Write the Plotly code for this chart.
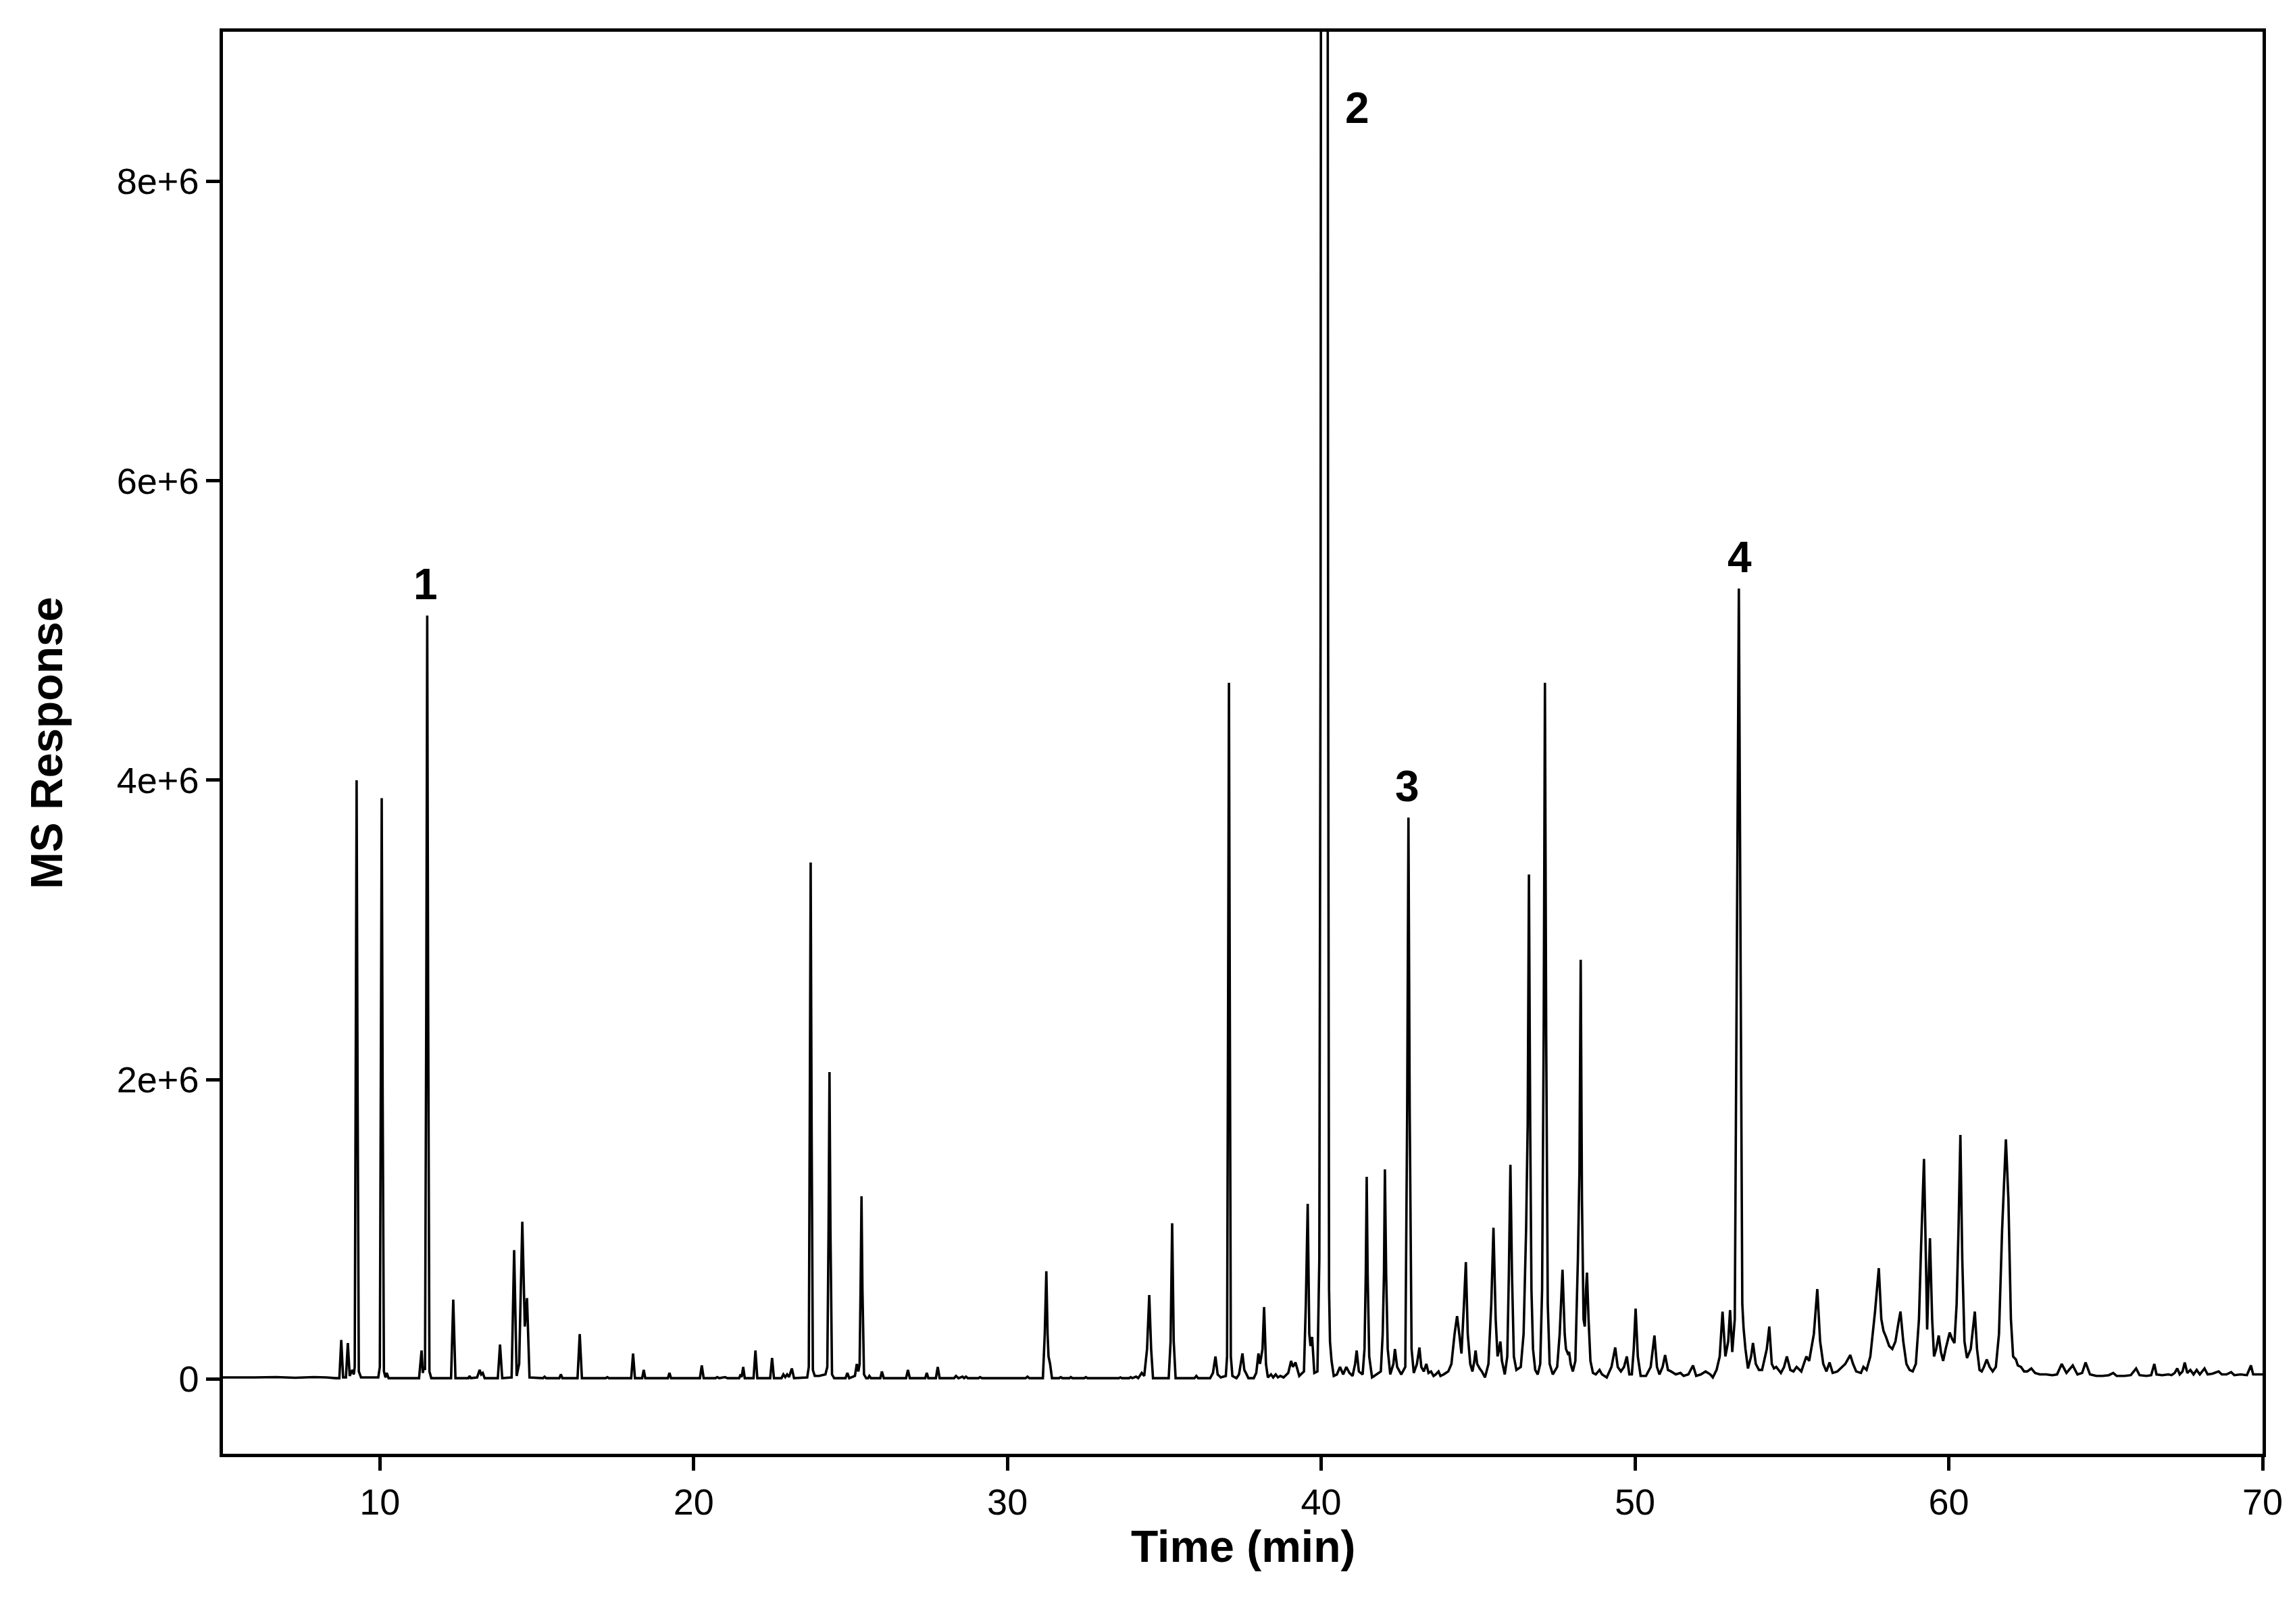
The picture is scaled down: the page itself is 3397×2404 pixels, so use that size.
import plotly.graph_objects as go

# Chromatogram trace: (time in min, MS response in 1e6 counts)
seg_05_20 = [
    (5.0, 0.01), (6.0, 0.01), (6.7, 0.012), (7.3, 0.008), (7.9, 0.012), (8.3, 0.01), (8.6, 0.005),
    (8.71, 0.005), (8.77, 0.26), (8.83, 0.01),
    (8.92, 0.01), (8.98, 0.24), (9.04, 0.02),
    (9.12, 0.06), (9.17, 0.03), (9.2, 0.08), (9.23, 2.0), (9.26, 4.0), (9.29, 2.0), (9.33, 0.05), (9.4, 0.01),
    (9.95, 0.01), (10.0, 0.08), (10.03, 1.9), (10.06, 3.88), (10.09, 1.9), (10.13, 0.05), (10.18, 0.01),
    (10.22, 0.04), (10.28, 0.005),
    (11.25, 0.005), (11.33, 0.19), (11.37, 0.04), (11.4, 0.08), (11.44, 0.06), (11.48, 2.5), (11.51, 5.1),
    (11.54, 2.5), (11.58, 0.05), (11.64, 0.005),
    (12.27, 0.005), (12.34, 0.53), (12.41, 0.005),
    (12.82, 0.005), (12.86, 0.02), (12.9, 0.005), (13.1, 0.01), (13.18, 0.06), (13.23, 0.03), (13.28, 0.04),
    (13.34, 0.005),
    (13.76, 0.005), (13.83, 0.23), (13.9, 0.005),
    (14.2, 0.01), (14.28, 0.86), (14.36, 0.02), (14.44, 0.1), (14.54, 1.05), (14.62, 0.35), (14.69, 0.54),
    (14.77, 0.01),
    (15.2, 0.005), (15.25, 0.015), (15.3, 0.005), (15.72, 0.005), (15.77, 0.03), (15.82, 0.005),
    (16.3, 0.005), (16.37, 0.30), (16.44, 0.005),
    (17.2, 0.005), (17.25, 0.012), (17.3, 0.005),
    (18.01, 0.005), (18.07, 0.17), (18.13, 0.005), (18.36, 0.005), (18.41, 0.06), (18.46, 0.005),
    (19.18, 0.005), (19.23, 0.04), (19.28, 0.005),
    (20.2, 0.005), (20.26, 0.09), (20.32, 0.005),
]

seg_20_31 = [
    (20.7, 0.005), (20.75, 0.012), (20.82, 0.005), (21.0, 0.012), (21.08, 0.005),
    (21.45, 0.005), (21.5, 0.03), (21.53, 0.012), (21.58, 0.08), (21.63, 0.005),
    (21.91, 0.005), (21.97, 0.19), (22.03, 0.005),
    (22.44, 0.005), (22.5, 0.14), (22.56, 0.005),
    (22.8, 0.005), (22.86, 0.03), (22.92, 0.012), (22.98, 0.03), (23.04, 0.012), (23.13, 0.07), (23.2, 0.005),
    (23.62, 0.01), (23.67, 0.08), (23.7, 1.7), (23.73, 3.45), (23.76, 1.7), (23.8, 0.06), (23.86, 0.02),
    (24.0, 0.02), (24.2, 0.03), (24.26, 0.08), (24.3, 1.0), (24.33, 2.05), (24.36, 1.0), (24.41, 0.03),
    (24.48, 0.005),
    (24.84, 0.005), (24.9, 0.04), (24.96, 0.005), (25.14, 0.02), (25.2, 0.1), (25.25, 0.05), (25.29, 0.1),
    (25.32, 0.6), (25.35, 1.22), (25.38, 0.6), (25.43, 0.03), (25.5, 0.005),
    (25.56, 0.005), (25.6, 0.02), (25.65, 0.005), (25.95, 0.005), (26.0, 0.05), (26.06, 0.005),
    (26.77, 0.005), (26.83, 0.06), (26.89, 0.005),
    (27.38, 0.005), (27.43, 0.04), (27.48, 0.005), (27.72, 0.005), (27.78, 0.08), (27.84, 0.005),
    (28.3, 0.005), (28.36, 0.02), (28.44, 0.005), (28.57, 0.015), (28.62, 0.005), (28.68, 0.015),
    (28.74, 0.005),
    (29.08, 0.005), (29.13, 0.012), (29.19, 0.005), (30.58, 0.005), (30.64, 0.015), (30.7, 0.005),
    (31.13, 0.005), (31.19, 0.3), (31.24, 0.72), (31.28, 0.3), (31.31, 0.15), (31.36, 0.1), (31.42, 0.005),
]

seg_31_40 = [
    (31.65, 0.005), (31.7, 0.012), (31.75, 0.005), (31.98, 0.005), (32.02, 0.012), (32.07, 0.005),
    (32.45, 0.005), (32.5, 0.012), (32.55, 0.005),
    (33.55, 0.005), (33.6, 0.01), (33.65, 0.005), (33.88, 0.005), (33.93, 0.012), (33.98, 0.005),
    (34.1, 0.015), (34.17, 0.005), (34.28, 0.04), (34.36, 0.02),
    (34.45, 0.2), (34.52, 0.56), (34.58, 0.2), (34.64, 0.005),
    (35.14, 0.005), (35.2, 0.25), (35.25, 1.04), (35.3, 0.25), (35.36, 0.005),
    (35.96, 0.005), (36.02, 0.02), (36.08, 0.005),
    (36.46, 0.005), (36.55, 0.04), (36.63, 0.15), (36.7, 0.03), (36.8, 0.01),
    (36.96, 0.02), (37.0, 0.15), (37.03, 2.3), (37.06, 4.65), (37.09, 2.3), (37.12, 0.15), (37.17, 0.02),
    (37.3, 0.005), (37.38, 0.03), (37.49, 0.17), (37.55, 0.06), (37.6, 0.04), (37.68, 0.005),
    (37.85, 0.005), (37.93, 0.04), (38.0, 0.17), (38.05, 0.1), (38.13, 0.2), (38.18, 0.48), (38.24, 0.1),
    (38.3, 0.01),
    (38.4, 0.03), (38.47, 0.01), (38.55, 0.03), (38.62, 0.01), (38.7, 0.02), (38.8, 0.01), (38.95, 0.04),
    (39.04, 0.12), (39.1, 0.08), (39.18, 0.11), (39.3, 0.02),
    (39.45, 0.05), (39.51, 0.5), (39.57, 1.17), (39.62, 0.3), (39.66, 0.22), (39.71, 0.28), (39.78, 0.04),
    (39.88, 0.05), (39.94, 0.8), (39.98, 5.0), (40.0, 12.0), (40.2, 12.0), (40.22, 5.0), (40.25, 0.6),
    (40.28, 0.25), (40.33, 0.12), (40.4, 0.02),
]

seg_40_50 = [
    (40.5, 0.03), (40.6, 0.08), (40.7, 0.03), (40.8, 0.08), (40.9, 0.04), (41.0, 0.02), (41.08, 0.1),
    (41.13, 0.19), (41.2, 0.05), (41.32, 0.03),
    (41.38, 0.2), (41.42, 0.7), (41.45, 1.35), (41.48, 0.7), (41.53, 0.15), (41.62, 0.01),
    (41.9, 0.05), (41.96, 0.3), (42.0, 0.7), (42.03, 1.40), (42.07, 0.7), (42.12, 0.2), (42.2, 0.03),
    (42.3, 0.1), (42.35, 0.2), (42.42, 0.08), (42.55, 0.03),
    (42.68, 0.08), (42.74, 1.8), (42.78, 3.75), (42.82, 1.8), (42.88, 0.2), (42.95, 0.04), (43.05, 0.1),
    (43.13, 0.21), (43.19, 0.08), (43.27, 0.05), (43.35, 0.1), (43.42, 0.04), (43.5, 0.05), (43.58, 0.02),
    (43.65, 0.03), (43.74, 0.05), (43.8, 0.02), (43.9, 0.03), (44.05, 0.05), (44.15, 0.1),
    (44.25, 0.3), (44.33, 0.42), (44.4, 0.3), (44.47, 0.17), (44.55, 0.5), (44.61, 0.78), (44.67, 0.3),
    (44.75, 0.1), (44.82, 0.05), (44.88, 0.12), (44.92, 0.19), (44.97, 0.1), (45.05, 0.07), (45.12, 0.05),
    (45.22, 0.01),
    (45.33, 0.1), (45.42, 0.5), (45.49, 1.01), (45.56, 0.4), (45.62, 0.15), (45.67, 0.2), (45.71, 0.25),
    (45.76, 0.12), (45.85, 0.03),
    (45.93, 0.15), (45.98, 0.7), (46.03, 1.43), (46.08, 0.7), (46.14, 0.15), (46.22, 0.06), (46.36, 0.08),
    (46.45, 0.3), (46.53, 1.0), (46.58, 1.7), (46.62, 3.37), (46.66, 1.7), (46.7, 0.6), (46.75, 0.2),
    (46.82, 0.06), (46.9, 0.03),
    (46.98, 0.1), (47.04, 0.6), (47.09, 2.3), (47.13, 4.65), (47.17, 2.3), (47.22, 0.5), (47.28, 0.1),
    (47.38, 0.03),
    (47.52, 0.08), (47.6, 0.3), (47.69, 0.73), (47.76, 0.3), (47.8, 0.2), (47.86, 0.17), (47.9, 0.18),
    (47.95, 0.1), (48.02, 0.05), (48.1, 0.12), (48.18, 0.8), (48.23, 1.4), (48.27, 2.8), (48.31, 1.2),
    (48.36, 0.4), (48.4, 0.35), (48.44, 0.6), (48.47, 0.71), (48.52, 0.4), (48.58, 0.12), (48.66, 0.04),
    (48.75, 0.03), (48.87, 0.06), (48.95, 0.03), (49.1, 0.01),
    (49.25, 0.08), (49.37, 0.21), (49.45, 0.08), (49.55, 0.05), (49.65, 0.08), (49.74, 0.15), (49.82, 0.03),
    (49.9, 0.03), (49.96, 0.2), (50.02, 0.47),
]

seg_50_58 = [
    (50.09, 0.15), (50.18, 0.02), (50.35, 0.02), (50.5, 0.08), (50.62, 0.29), (50.7, 0.08), (50.78, 0.03),
    (50.88, 0.08), (50.96, 0.16), (51.05, 0.06), (51.15, 0.05), (51.3, 0.03), (51.45, 0.04), (51.55, 0.02),
    (51.7, 0.03), (51.85, 0.09), (51.95, 0.02), (52.1, 0.03), (52.25, 0.05), (52.4, 0.03), (52.48, 0.01),
    (52.6, 0.06),
    (52.7, 0.15), (52.79, 0.45), (52.88, 0.15), (52.97, 0.25), (53.03, 0.46), (53.1, 0.18), (53.18, 0.4),
    (53.24, 2.6), (53.31, 5.28), (53.37, 2.6), (53.42, 0.5), (53.46, 0.34), (53.52, 0.2), (53.6, 0.07),
    (53.7, 0.15), (53.76, 0.24), (53.85, 0.1), (53.95, 0.06), (54.05, 0.06), (54.2, 0.2), (54.28, 0.35),
    (54.36, 0.1), (54.43, 0.07), (54.5, 0.08), (54.65, 0.04), (54.75, 0.08), (54.84, 0.15), (54.95, 0.06),
    (55.05, 0.05), (55.15, 0.08), (55.3, 0.05), (55.46, 0.15), (55.55, 0.12), (55.7, 0.3), (55.81, 0.6),
    (55.9, 0.25), (56.0, 0.1), (56.1, 0.05), (56.2, 0.11), (56.3, 0.04), (56.45, 0.05), (56.6, 0.08),
    (56.7, 0.1), (56.86, 0.16), (56.95, 0.1), (57.05, 0.05), (57.2, 0.04), (57.28, 0.08), (57.38, 0.06),
    (57.5, 0.15), (57.65, 0.45), (57.77, 0.74), (57.85, 0.4), (57.92, 0.32),
]

seg_58_70 = [
    (58.0, 0.28), (58.1, 0.22), (58.2, 0.2), (58.3, 0.25), (58.4, 0.38), (58.46, 0.45), (58.55, 0.25),
    (58.65, 0.1), (58.75, 0.06), (58.85, 0.05), (58.95, 0.1), (59.05, 0.4), (59.12, 0.9), (59.21, 1.47),
    (59.28, 0.7), (59.31, 0.33), (59.35, 0.6), (59.4, 0.94), (59.47, 0.4), (59.53, 0.15), (59.6, 0.2),
    (59.68, 0.29), (59.75, 0.18), (59.82, 0.12), (59.9, 0.2), (60.03, 0.31), (60.1, 0.27), (60.18, 0.24),
    (60.25, 0.5), (60.31, 1.0), (60.37, 1.63), (60.43, 0.8), (60.5, 0.25), (60.58, 0.14), (60.7, 0.2),
    (60.83, 0.45), (60.9, 0.2), (60.98, 0.06), (61.05, 0.05), (61.12, 0.08), (61.21, 0.13), (61.3, 0.08),
    (61.4, 0.05), (61.5, 0.08), (61.6, 0.3), (61.7, 1.0), (61.82, 1.6), (61.9, 1.2), (61.98, 0.4),
    (62.05, 0.15), (62.14, 0.13), (62.2, 0.09), (62.3, 0.08), (62.4, 0.05), (62.5, 0.05), (62.63, 0.07),
    (62.75, 0.04), (62.9, 0.03), (63.1, 0.03), (63.3, 0.025), (63.45, 0.03), (63.6, 0.1), (63.75, 0.04),
    (63.95, 0.09), (64.1, 0.03), (64.25, 0.04), (64.36, 0.11), (64.5, 0.03), (64.7, 0.02), (64.9, 0.02),
    (65.1, 0.025), (65.24, 0.04), (65.35, 0.02), (65.6, 0.02), (65.8, 0.025), (65.97, 0.07), (66.08, 0.025),
    (66.3, 0.02), (66.45, 0.025), (66.55, 0.1), (66.62, 0.03), (66.8, 0.025), (67.0, 0.03), (67.1, 0.025),
    (67.2, 0.04), (67.28, 0.07), (67.36, 0.03), (67.45, 0.05), (67.52, 0.11), (67.6, 0.04), (67.7, 0.06),
    (67.8, 0.03), (67.9, 0.06), (68.0, 0.03), (68.15, 0.07), (68.25, 0.03), (68.4, 0.035), (68.6, 0.05),
    (68.7, 0.03), (68.85, 0.03), (69.0, 0.045), (69.1, 0.025), (69.3, 0.03), (69.5, 0.025), (69.63, 0.09),
    (69.7, 0.03), (69.85, 0.03), (70.0, 0.03),
]

# Peak labels
label_text = ["1", "2", "3", "4"]
label_time = [11.46, 41.15, 42.74, 53.33]
label_resp = [5.31, 8.49, 3.96, 5.49]

# Axis ticks
x_ticks = [10, 20, 30, 40, 50, 60, 70]
y_ticks = [0, 2, 4, 6, 8]
y_tick_text = ["0", "2e+6", "4e+6", "6e+6", "8e+6"]

trace_pts = seg_05_20 + seg_20_31 + seg_31_40 + seg_40_50 + seg_50_58 + seg_58_70
time = [p[0] for p in trace_pts]
resp = [p[1] for p in trace_pts]

FONT = "Liberation Sans, Arial, sans-serif"

fig = go.Figure()
fig.add_trace(go.Scatter(x=time, y=resp, mode="lines",
                         line=dict(color="black", width=3.6, simplify=False),
                         hoverinfo="skip", showlegend=False))

for t, x, y in zip(label_text, label_time, label_resp):
    fig.add_annotation(x=x, y=y, xref="x", yref="y", text="<b>%s</b>" % t, showarrow=False,
                       font=dict(family=FONT, size=64, color="black"),
                       xanchor="center", yanchor="middle")

fig.add_annotation(x=0.5, y=-0.065, xref="paper", yref="paper", text="<b>Time (min)</b>",
                   showarrow=False, font=dict(family=FONT, size=66, color="black"),
                   xanchor="center", yanchor="middle")
fig.add_annotation(x=-0.0865, y=0.5, xref="paper", yref="paper", text="<b>MS Response</b>",
                   showarrow=False, textangle=-90, font=dict(family=FONT, size=66, color="black"),
                   xanchor="center", yanchor="middle")

axis_common = dict(showline=True, linecolor="black", linewidth=4.5, mirror=True,
                   ticks="outside", ticklen=20, tickwidth=4.5, tickcolor="black",
                   showgrid=False, zeroline=False,
                   tickfont=dict(family=FONT, size=54, color="black"))

fig.update_xaxes(range=[5, 70], tickmode="array", tickvals=x_ticks, **axis_common)
fig.update_yaxes(range=[-0.5, 9.0], tickmode="array", tickvals=y_ticks, ticktext=y_tick_text,
                 **axis_common)

fig.update_layout(width=3397, height=2404,
                  margin=dict(l=322, r=56, t=39, b=260, pad=0),
                  paper_bgcolor="white", plot_bgcolor="white",
                  font=dict(family=FONT, color="black"))

fig.write_html("out.html")
